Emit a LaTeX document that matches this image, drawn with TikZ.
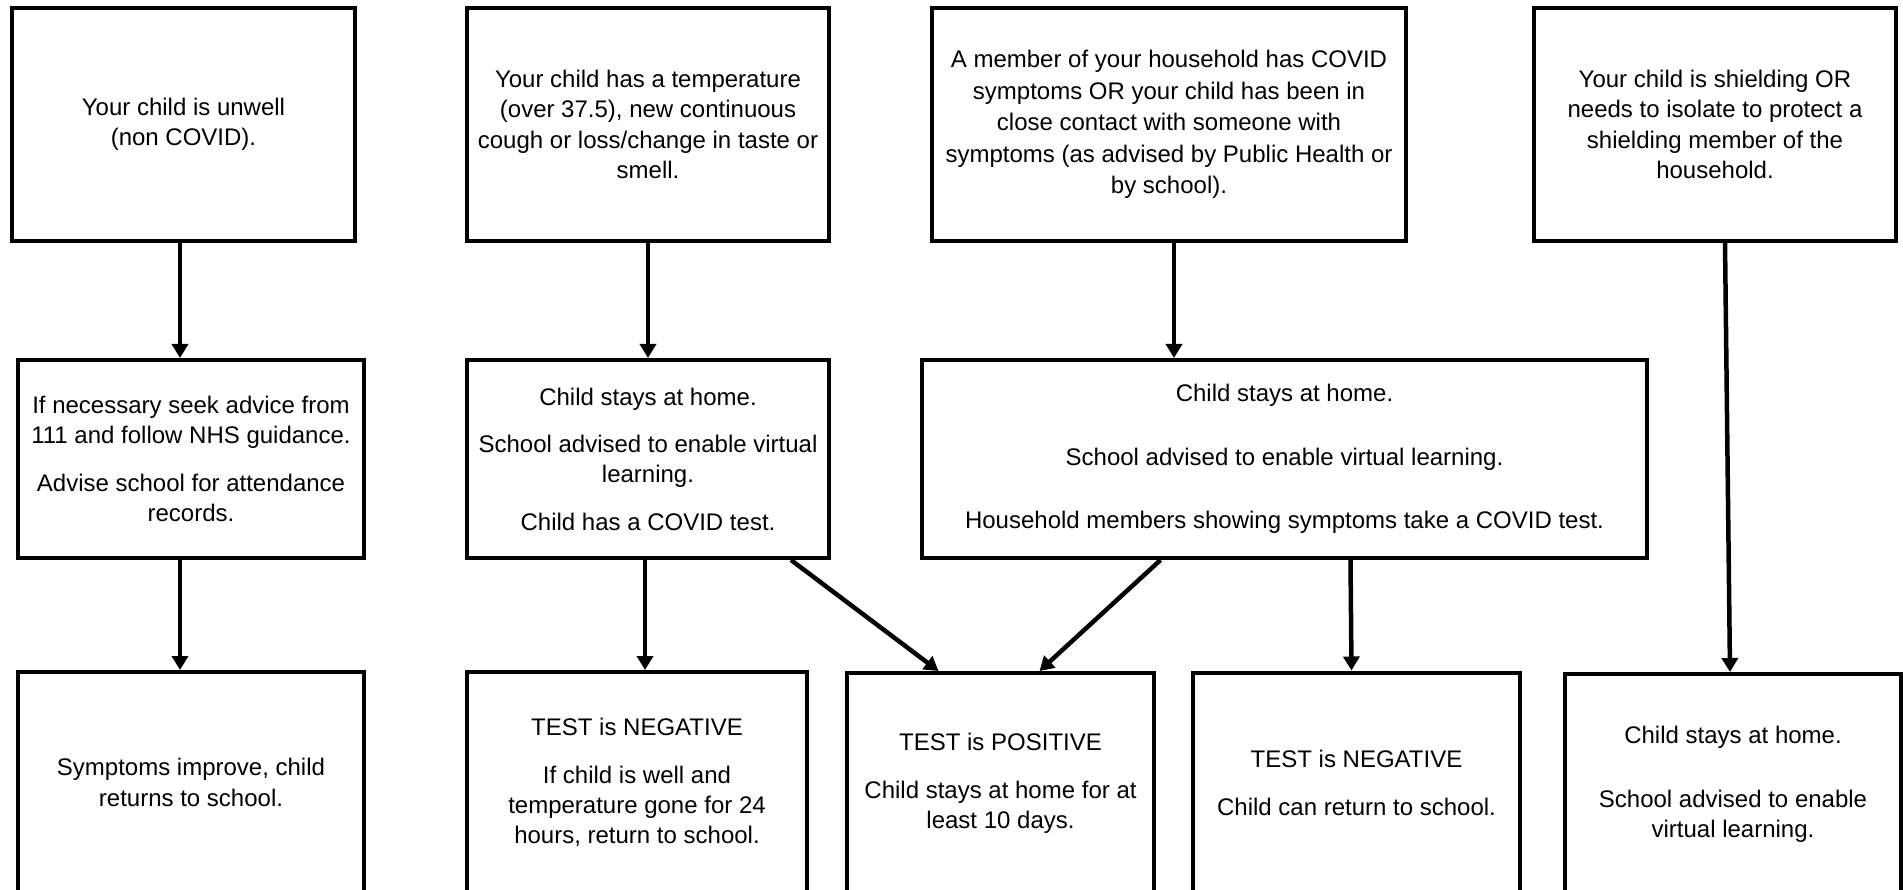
\documentclass[tikz,border=0pt]{standalone}
\usepackage{fontspec}
\setmainfont{Liberation Sans}
\usepackage{tikz}
\usetikzlibrary{arrows.meta}

\begin{document}
\begin{tikzpicture}[
  x=1pt, y=-1pt,
  font=\fontsize{24}{30.3}\selectfont,
  box/.style={rectangle, draw, line width=4pt, inner sep=0pt, align=center},
  toprow/.style={box, minimum height=233pt},
  midrow/.style={box, minimum height=198pt},
  lowrow/.style={box, minimum height=221pt},
  arr/.style={-{Triangle[length=14pt,width=16pt]}, line width=4.5pt}
]
\clip (0,0) rectangle (1903,890);

% what is the situation
\node[toprow, minimum width=343pt] (unwell) at (183.5,124.5) {Your child is unwell\\(non COVID).};
\node[toprow, minimum width=362pt] (temp) at (648,124.5) {Your child has a temperature\\(over 37.5), new continuous\\cough or loss/change in taste or\\smell.};
\node[toprow, minimum width=474pt, font=\fontsize{24}{31.6}\selectfont] (house) at (1169,124.5) {A member of your household has COVID\\symptoms OR your child has been in\\close contact with someone with\\symptoms (as advised by Public Health or\\by school).};
\node[toprow, minimum width=362pt] (shield) at (1715,124.5) {Your child is shielding OR\\needs to isolate to protect a\\shielding member of the\\household.};

% what to do
\node[midrow, minimum width=346pt] (advice) at (191,459) {If necessary seek advice from\\111 and follow NHS guidance.\\[17pt]Advise school for attendance\\records.};
\node[midrow, minimum width=362pt] (home) at (648,459) {Child stays at home.\\[17pt]School advised to enable virtual\\learning.\\[17pt]Child has a COVID test.};
\node[midrow, minimum width=725pt] (homeall) at (1284.5,459) {Child stays at home.\\[33pt]School advised to enable virtual learning.\\[33pt]Household members showing symptoms take a COVID test.};

% outcome
\node[lowrow, minimum width=346pt] (improve) at (191,782.5) {Symptoms improve, child\\returns to school.};
\node[lowrow, minimum width=340pt] (neg) at (637,782.5) {TEST is NEGATIVE\\[17pt]If child is well and\\temperature gone for 24\\hours, return to school.};
\node[lowrow, minimum width=307pt] (pos) at (1000.5,783.5) {TEST is POSITIVE\\[17pt]Child stays at home for at\\least 10 days.};
\node[lowrow, minimum width=327pt] (negok) at (1356.5,783) {TEST is NEGATIVE\\[17pt]Child can return to school.};
\node[lowrow, minimum width=336pt] (shieldhome) at (1733,784.5) {Child stays at home.\\[33pt]School advised to enable\\virtual learning.};

\draw[arr] ([xshift=-3.5pt]unwell.south) -- ([xshift=-3.5pt]unwell.south |- advice.north);
\draw[arr] (temp) -- (home);
\draw[arr] ([xshift=5pt]house.south) -- ([xshift=5pt]house.south |- homeall.north);
\draw[arr] ([xshift=10pt]shield.south) -- ([xshift=-3pt]shieldhome.north);

\draw[arr] ([xshift=-11pt]advice.south) -- ([xshift=-11pt]improve.north);
\draw[arr] ([xshift=-3pt]home.south) -- ([xshift=8pt]neg.north);
\draw[arr] ([xshift=143pt]home.south) -- ([xshift=-62pt]pos.north);
\draw[arr] ([xshift=-124pt]homeall.south) -- ([xshift=39pt]pos.north);
\draw[arr] ([xshift=66pt]homeall.south) -- ([xshift=-5pt]negok.north);
\end{tikzpicture}
\end{document}
